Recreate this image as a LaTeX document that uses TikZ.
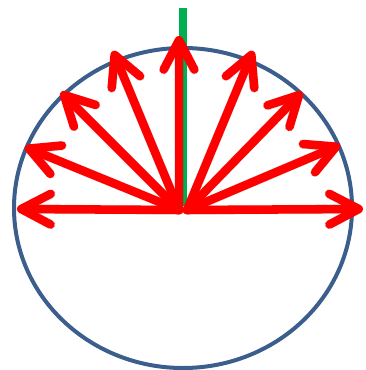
\documentclass[tikz,border=0pt]{standalone}
\usetikzlibrary{arrows.meta}
\definecolor{ringblue}{RGB}{59,94,140}
\definecolor{axisgreen}{RGB}{0,176,80}
\begin{document}
\begin{tikzpicture}[x=0.75pt,y=-0.75pt,
  ring/.style={draw=ringblue,line width=3pt},
  axis/.style={draw=axisgreen,line width=5.4pt},
  ray/.style={draw=red,line width=6.4pt,line cap=round,-{Straight Barb[length=22pt,width=23pt,round]}},
  rayshade/.style={draw=black,opacity=0.1,line width=7pt,line cap=round,-{Straight Barb[length=22pt,width=23pt,round]}}]
  \useasboundingbox (0,0) rectangle (366,370);
  % circle
  \draw[ring] (183,208) ellipse [x radius=169,y radius=160];
  % green axis
  \coordinate (gtop) at (183,8);
  \coordinate (gbot) at (183,206);
  \draw[axis] (gtop) -- (gbot);
  % the two centres
  \coordinate (ol) at (179,210);
  \coordinate (or) at (187,210);
  % arrow tips
  \foreach \n/\x/\y in {l1/17/209,l2/25/147,l3/61/92,l4/113/51,l5/179/36} \coordinate (\n) at (\x,\y);
  \foreach \n/\x/\y in {r1/253/51,r2/302/92,r3/340/145,r4/363/209} \coordinate (\n) at (\x,\y);
  % shadows
  \begin{scope}[shift={(1.5,2.5)}]
    \foreach \n in {l1,l2,l3,l4,l5} \draw[rayshade] (ol) -- (\n);
    \foreach \n in {r1,r2,r3,r4} \draw[rayshade] (or) -- (\n);
  \end{scope}
  % red arrows
  \foreach \n in {l1,l2,l3,l4,l5} \draw[ray] (ol) -- (\n);
  \foreach \n in {r1,r2,r3,r4} \draw[ray] (or) -- (\n);
\end{tikzpicture}
\end{document}
